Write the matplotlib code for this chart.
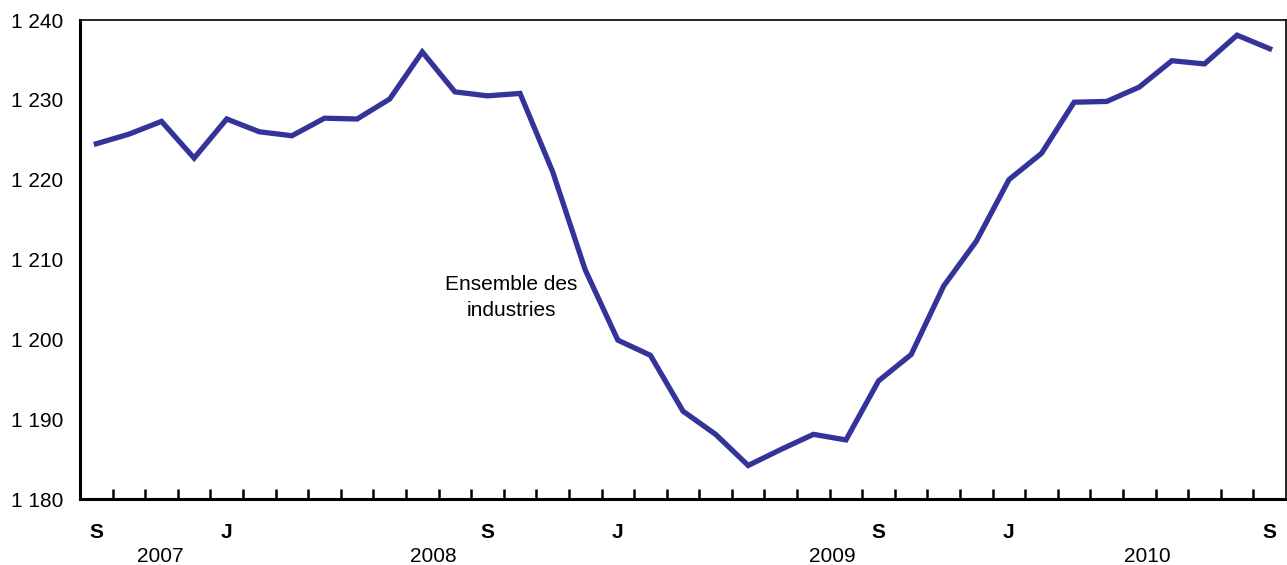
import matplotlib
matplotlib.use("Agg")
import matplotlib.pyplot as plt

plt.rcParams['font.family'] = ['Liberation Sans', 'DejaVu Sans']

# monthly values, Sep 2007 .. Sep 2010
values = [1224.5, 1225.7, 1227.3, 1222.7, 1227.6, 1226.0, 1225.5, 1227.7, 1227.6,
          1230.1, 1236.0, 1231.0, 1230.5, 1230.8, 1221.0, 1208.7, 1199.9, 1198.0,
          1191.0, 1188.1, 1184.2, 1186.2, 1188.1, 1187.4, 1194.8, 1198.1, 1206.7,
          1212.3, 1220.0, 1223.3, 1229.7, 1229.8, 1231.6, 1234.9, 1234.5, 1238.1,
          1236.4]
month_labels = {0: "S", 4: "J", 12: "S", 16: "J", 24: "S", 28: "J", 36: "S"}
year_labels = ["2007", "2008", "2009", "2010"]
year_pos = [1.95, 10.33, 22.57, 32.26]
y_ticks = [1180, 1190, 1200, 1210, 1220, 1230, 1240]

fig = plt.figure(figsize=(12.87, 5.65), dpi=100)
ax = fig.add_axes([0.0622, 0.1168, 0.937, 0.8478])

x = list(range(len(values)))
ax.plot(x, values, color="#333399", lw=3.8, solid_joinstyle="miter")

ax.set_xlim(-0.5, len(values) - 0.5)
ax.set_ylim(1180, 1240)
ax.set_yticks(y_ticks)
ax.set_yticklabels([f"{v // 1000} {v % 1000:03d}" for v in y_ticks], fontsize=15)
ax.tick_params(axis="y", length=0, pad=12)

ax.set_xticks([i + 0.5 for i in range(len(values) - 1)])
ax.set_xticklabels([])
ax.tick_params(axis="x", direction="in", length=7, width=1.8, color="black")

for s in ["left", "bottom"]:
    ax.spines[s].set_linewidth(2.2)
for s in ["top", "right"]:
    ax.spines[s].set_linewidth(1.2)

trans = ax.get_xaxis_transform()
for i, lab in month_labels.items():
    ax.text(i, -0.07, lab, transform=trans, ha="center", va="center",
            fontsize=15, fontweight="bold")
for yp, lab in zip(year_pos, year_labels):
    ax.text(yp, -0.12, lab, transform=trans, ha="center", va="center", fontsize=15)

ax.text(12.72, 1205.2, "Ensemble des\nindustries", ha="center", va="center",
        fontsize=15, linespacing=1.45)

fig.savefig("out.png", dpi=100)
